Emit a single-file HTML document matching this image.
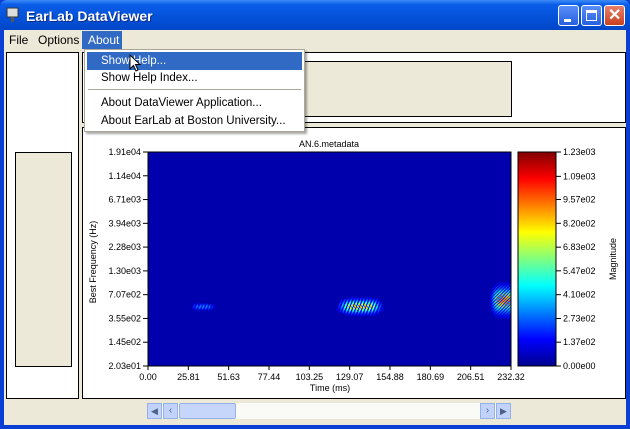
<!DOCTYPE html>
<html><head><meta charset="utf-8"><style>
*{margin:0;padding:0;box-sizing:border-box}
body{width:630px;height:429px;overflow:hidden;background:#0a3fd6;font-family:"Liberation Sans",sans-serif;position:relative}
.abs{position:absolute}
#titlebar{left:0;top:0;width:630px;height:30px;background:linear-gradient(#3d8bf7 0%,#0a5de8 15%,#0451d8 60%,#0046c8 100%);border-radius:7px 7px 0 0}
#title{left:26px;top:8px;color:#fff;font-weight:bold;font-size:14px;text-shadow:1px 1px #0a2a8a}
.tbtn{top:5px;width:21px;height:21px;border:1px solid #fff;border-radius:3px;background:linear-gradient(#5a8ef8,#2660e0)}
#client{left:4px;top:30px;width:622px;height:395px;background:#ece9d8}
.menu{top:31px;height:18px;font-size:12px;line-height:18px;padding:0 6px;color:#000}
.panel{background:#fff;border:1px solid #000}
.beige{background:#ece9d8;border:1px solid #000}
#dropdown{left:84px;top:49px;width:221px;height:83px;background:#fff;border:1px solid #aca899;box-shadow:2px 2px 2px rgba(0,0,0,.35)}
.mi{left:2px;width:215px;height:18px;font-size:11.5px;line-height:18px;padding-left:14px;color:#000}
svg text{font-family:"Liberation Sans",sans-serif}
</style></head><body>
<div class="abs" id="titlebar">
 <svg class="abs" style="left:6px;top:7px" width="14" height="16"><rect x="1" y="1" width="11" height="9" fill="#ddd" stroke="#333"/><rect x="5" y="10" width="3" height="5" fill="#555"/></svg>
 <div class="abs" id="title">EarLab DataViewer</div>
 <div class="abs tbtn" style="left:558px"><div class="abs" style="left:5px;top:13px;width:7px;height:3px;background:#fff"></div></div>
 <div class="abs tbtn" style="left:581px"><div class="abs" style="left:4px;top:4px;width:11px;height:11px;border:1px solid #fff;border-top-width:3px"></div></div>
 <div class="abs tbtn" style="left:604px;background:linear-gradient(#e8806a,#c8401e)"><div class="abs" style="left:3px;top:-1px;color:#fff;font-weight:bold;font-size:16px">✕</div></div>
</div>
<div class="abs" id="client"></div>
<div class="abs menu" style="left:3px">File</div>
<div class="abs menu" style="left:32px">Options</div>
<div class="abs menu" style="left:82px;background:#316ac5;color:#fff;width:40px">About</div>

<div class="abs panel" style="left:6px;top:52px;width:73px;height:347px"></div>
<div class="abs beige" style="left:15px;top:152px;width:57px;height:215px"></div>
<div class="abs panel" style="left:82px;top:52px;width:544px;height:71px"></div>
<div class="abs beige" style="left:298px;top:61px;width:214px;height:56px"></div>
<div class="abs panel" style="left:82px;top:127px;width:544px;height:272px"></div>

<svg class="abs" style="left:0;top:0" width="630" height="429" id="chart">
<defs><linearGradient id="jet" x1="0" y1="1" x2="0" y2="0">
<stop offset="0" stop-color="#00008f"/><stop offset="0.125" stop-color="#0000ff"/><stop offset="0.375" stop-color="#00ffff"/><stop offset="0.625" stop-color="#ffff00"/><stop offset="0.875" stop-color="#ff0000"/><stop offset="1" stop-color="#800000"/></linearGradient>
<clipPath id="pc"><rect x="148" y="152" width="363" height="214"/></clipPath></defs>
<text x="329" y="147" font-size="9" text-anchor="middle">AN.6.metadata</text>
<rect x="148" y="152" width="363" height="214" fill="#0000ad"/>
<g id="cells" clip-path="url(#pc)"></g>
<rect x="148" y="152" width="363" height="214" fill="none" stroke="#000"/>
<g id="axes"></g>
<rect x="518" y="152" width="38" height="214" fill="url(#jet)" stroke="#000"/>
<text transform="translate(96,262) rotate(-90)" font-size="9" text-anchor="middle">Best Frequency (Hz)</text>
<text x="330" y="391" font-size="9" text-anchor="middle">Time (ms)</text>
<text transform="translate(616,259) rotate(-90)" font-size="9" text-anchor="middle">Magnitude</text>
</svg>

<div class="abs" style="left:147px;top:403px;width:364px;height:16px;background:#fafaf6;border-radius:2px">
 <div class="abs" style="left:0;top:0;width:15px;height:16px;background:#c1d3fb;border:1px solid #98b0e8;font-size:9px;color:#4d6185;text-align:center;line-height:14px">◀</div>
 <div class="abs" style="left:16px;top:0;width:15px;height:16px;background:#c1d3fb;border:1px solid #98b0e8;font-size:10px;color:#4d6185;text-align:center;line-height:14px">‹</div>
 <div class="abs" style="left:32px;top:0;width:57px;height:16px;background:#c6d6fb;border:1px solid #98b0e8;border-radius:2px"></div>
 <div class="abs" style="left:333px;top:0;width:15px;height:16px;background:#c1d3fb;border:1px solid #98b0e8;font-size:10px;color:#4d6185;text-align:center;line-height:14px">›</div>
 <div class="abs" style="left:349px;top:0;width:15px;height:16px;background:#c1d3fb;border:1px solid #98b0e8;font-size:9px;color:#4d6185;text-align:center;line-height:14px">▶</div>
</div>

<div class="abs" id="dropdown">
 <div class="abs mi" style="top:2px;background:#316ac5;color:#fff">Show Help...</div>
 <div class="abs mi" style="top:19px">Show Help Index...</div>
 <div class="abs" style="left:3px;top:39px;width:213px;height:1px;background:#aca899"></div>
 <div class="abs mi" style="top:44px">About DataViewer Application...</div>
 <div class="abs mi" style="top:62px">About EarLab at Boston University...</div>
</div>
<svg class="abs" style="left:129px;top:54px" width="14" height="20"><path d="M1 1 L1 15 L4.5 11.5 L7 17 L9 16 L6.5 10.5 L11 10.5 Z" fill="#fff" stroke="#000"/></svg>

<script>
const xTicks=[0.00,25.81,51.63,77.44,103.25,129.07,154.88,180.69,206.51,232.32];
const yTicks=[20.3,145,355,707,1300,2280,3940,6710,11400,19100];
const yLabels=["2.03e01","1.45e02","3.55e02","7.07e02","1.30e03","2.28e03","3.94e03","6.71e03","1.14e04","1.91e04"];
const cTicks=[0,137,273,410,547,683,820,957,1090,1230];
const cLabels=["0.00e00","1.37e02","2.73e02","4.10e02","5.47e02","6.83e02","8.20e02","9.57e02","1.09e03","1.23e03"];
// events: start/end time (ms), low/high best frequency (Hz), peak magnitude, stripe slant
const evStart=[27,121,219];
const evEnd=[43,150,236];
const evFLow=[440,380,350];
const evFHigh=[580,680,1000];
const evPeak=[300,1000,1150];
const evSlant=[0.4,0.4,1.0];

const X0=148,X1=511,Y0=366,Y1=152;
const xs=t=>X0+(t-xTicks[0])/(xTicks[xTicks.length-1]-xTicks[0])*(X1-X0);
function ys(f){const n=yTicks.length-1;for(let i=0;i<n;i++){if(f<=yTicks[i+1]||i==n-1){const lf=Math.log(f),a=Math.log(yTicks[i]),b=Math.log(yTicks[i+1]);return Y0-(i+(lf-a)/(b-a))*(Y0-Y1)/n;}}}
const cs=v=>Y0-(v-cTicks[0])/(cTicks[cTicks.length-1]-cTicks[0])*(Y0-Y1);
function jet(v){const x=Math.max(0,Math.min(1,v));const c=t=>Math.round(255*Math.max(0,Math.min(1,1.5-Math.abs(4*x-t))));return `rgb(${c(3)},${c(2)},${c(1)})`;}
const NS="http://www.w3.org/2000/svg";
const ax=document.getElementById('axes');
function mk(tag,attrs,parent){const e=document.createElementNS(NS,tag);for(const k in attrs)e.setAttribute(k,attrs[k]);parent.appendChild(e);return e;}
xTicks.forEach(t=>{const x=xs(t);
 const l=mk('line',{x1:x,x2:x,y1:366,y2:370,stroke:'#000'},ax);
 
 
 const tx=mk('text',{x:x,y:380,'font-size':9,'text-anchor':'middle'},ax);tx.textContent=t.toFixed(2);
 
 });
yTicks.forEach((f,i)=>{const y=ys(f);
 const l=mk('line',{x1:143,x2:148,y1:y,y2:y,stroke:'#000'},ax);
 
 
 const tx=mk('text',{x:141,y:y+3,'font-size':9,'text-anchor':'end'},ax);tx.textContent=yLabels[i];
 
 });
cTicks.forEach((v,i)=>{const y=cs(v);
 const l=mk('line',{x1:556,x2:561,y1:y,y2:y,stroke:'#000'},ax);
 
 
 const tx=mk('text',{x:563,y:y+3,'font-size':9},ax);tx.textContent=cLabels[i];
 
 });
const cells=document.getElementById('cells');
const vmax=cTicks[cTicks.length-1];
evStart.forEach((s,k)=>{
 const xa=xs(s),xb=xs(evEnd[k]),ya=ys(evFHigh[k]),yb=ys(evFLow[k]);
 const g=mk('g',{},cells);
 
 
 for(let x=xa;x<xb;x+=1){for(let y=ya;y<yb;y+=1){
  const u=(x-xa)/(xb-xa)*2-1,w=(y-ya)/(yb-ya)*2-1;
  const env=Math.exp(-3*u*u*u*u)*Math.exp(-4*w*w);
  const stripe=0.5+0.5*Math.cos((x+(y-ya)*evSlant[k])*2*Math.PI/3.2);
  const v=evPeak[k]*env*stripe;
  if(v<25)continue;
  const r=mk('rect',{x:x,y:y,width:1.05,height:1.05,fill:jet(0.1+0.9*v/vmax)},g);
  
  
 }}
});
</script>
</body></html>
